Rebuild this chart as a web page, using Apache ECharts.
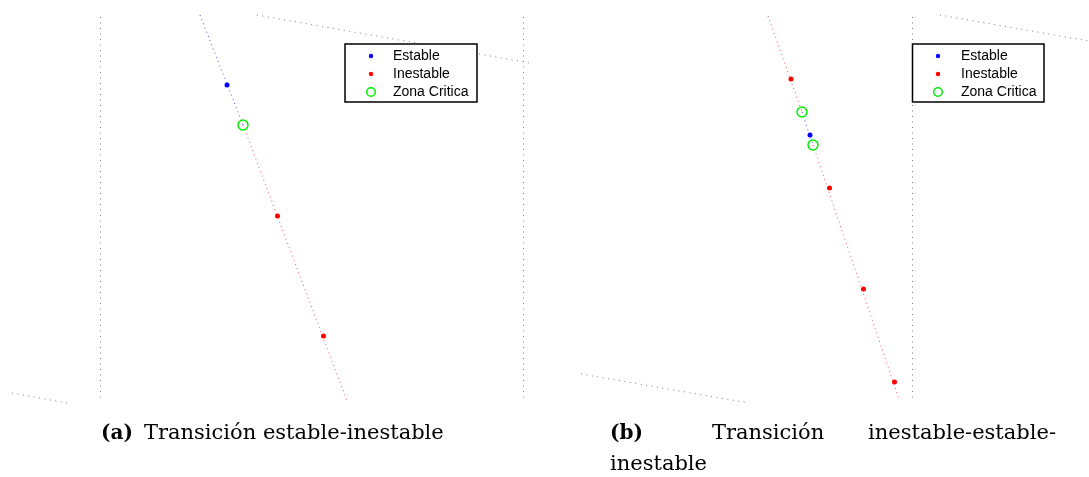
<!DOCTYPE html>
<html>
<head>
<meta charset="utf-8">
<script src="https://cdn.jsdelivr.net/npm/echarts@6/dist/echarts.min.js"></script>
<style>html,body{margin:0;padding:0;background:#fff}#c{width:1089px;height:477px}</style>
</head>
<body>
<div id="c"></div>
<script>
// ---- Panel (a): Transición estable-inestable (projected view coordinates) ----
var gridLinesA = [
  [[100, 17], [100, 399]],
  [[523, 17], [523, 401]],
  [[257, 15], [530, 63]],
  [[12, 393], [67, 403]]
];
var locusStableA = [[200, 15], [243, 125]];
var locusUnstableA = [[243, 125], [347, 401]];
var estableA = [[227, 85]];
var inestableA = [[277.5, 216], [323.5, 336]];
var criticaA = [[243, 125]];

// ---- Panel (b): Transición inestable-estable-inestable ----
var gridLinesB = [
  [[912.5, 17], [912.5, 399]],
  [[940, 15], [1089, 41]],
  [[581, 374], [749, 403]]
];
var locusUnstableB1 = [[768, 16], [802, 112]];
var locusStableB = [[802, 112], [813, 145]];
var locusUnstableB2 = [[813, 145], [899, 399]];
var estableB = [[810, 135]];
var inestableB = [[791, 79], [829.5, 188], [863.5, 289], [894.5, 382]];
var criticaB = [[802, 112], [813, 145]];

var legendNames = ['Estable', 'Inestable', 'Zona Critica'];
var captionA = ['(a)', 'Transición estable-inestable'];
var captionB = ['(b)', 'Transición', 'inestable-estable-', 'inestable'];

var BLUE = '#0000ff', RED = '#ff0000', GREEN = '#00ee00', GRAY = '#707070';

function segs(list) { return list.map(function (c) { return { coords: c }; }); }
function linesSeries(idx, data, color, dash, opacity) {
  return {
    type: 'lines', coordinateSystem: 'cartesian2d', xAxisIndex: idx, yAxisIndex: idx,
    data: data, silent: true, z: 1,
    lineStyle: { color: color, width: 1, type: dash, opacity: opacity }
  };
}
function scatter(idx, name, data, color, hollow) {
  return {
    type: 'scatter', name: name, xAxisIndex: idx, yAxisIndex: idx, data: data, z: 3,
    symbol: 'circle',
    symbolSize: hollow ? 10 : 5,
    itemStyle: hollow ? { color: 'rgba(255,255,255,0)', borderColor: color, borderWidth: 1.5, opacity: 1 }
                      : { color: color, opacity: 1 }
  };
}
function legendGraphic(x, y, w, h, mx, tx) {
  var els = [{
    type: 'rect', shape: { x: x, y: y, width: w, height: h },
    style: { fill: '#fff', stroke: '#000', lineWidth: 1.5 }, z: 10
  }];
  var rows = [y + 12, y + 30, y + 48];
  var cols = [BLUE, RED, GREEN];
  legendNames.forEach(function (n, i) {
    if (i < 2) {
      els.push({ type: 'circle', shape: { cx: mx, cy: rows[i], r: 2.2 }, style: { fill: cols[i] }, z: 11 });
    } else {
      els.push({ type: 'circle', shape: { cx: mx, cy: rows[i], r: 4.3 }, style: { fill: 'none', stroke: cols[i], lineWidth: 1.5 }, z: 11 });
    }
    els.push({ type: 'text', x: tx, y: rows[i], z: 11,
      style: { text: n, fill: '#000', font: '14px "Liberation Sans", Arial, sans-serif', verticalAlign: 'middle', align: 'left' } });
  });
  return els;
}
var serifR = '21px "DejaVu Serif", serif';
var serifB = 'bold 20px "DejaVu Serif", serif';
function cap(x, y, t, f, al) {
  return { type: 'text', x: x, y: y, style: { text: t, font: f, fill: '#000', align: al || 'left', verticalAlign: 'middle' } };
}

var chart = echarts.init(document.getElementById('c'), null, { renderer: 'canvas' });
chart.setOption({
  animation: false,
  backgroundColor: '#fff',
  grid: [
    { left: 0, top: 0, width: 545, height: 477 },
    { left: 545, top: 0, width: 544, height: 477 }
  ],
  xAxis: [
    { gridIndex: 0, type: 'value', min: 0, max: 545, show: false },
    { gridIndex: 1, type: 'value', min: 545, max: 1089, show: false }
  ],
  yAxis: [
    { gridIndex: 0, type: 'value', min: 0, max: 477, inverse: true, show: false },
    { gridIndex: 1, type: 'value', min: 0, max: 477, inverse: true, show: false }
  ],
  series: [
    linesSeries(0, segs(gridLinesA), GRAY, [1, 4.5], 0.9),
    linesSeries(0, segs([locusStableA]), BLUE, [1, 3.5], 0.7),
    linesSeries(0, segs([locusUnstableA]), RED, [1, 3.5], 0.7),
    scatter(0, legendNames[0], estableA, BLUE, false),
    scatter(0, legendNames[1], inestableA, RED, false),
    scatter(0, legendNames[2], criticaA, GREEN, true),
    linesSeries(1, segs(gridLinesB), GRAY, [1, 4.5], 0.9),
    linesSeries(1, segs([locusUnstableB1, locusUnstableB2]), RED, [1, 3.5], 0.7),
    linesSeries(1, segs([locusStableB]), BLUE, [1, 3.5], 0.7),
    scatter(1, legendNames[0], estableB, BLUE, false),
    scatter(1, legendNames[1], inestableB, RED, false),
    scatter(1, legendNames[2], criticaB, GREEN, true)
  ],
  graphic: [].concat(
    legendGraphic(345, 44, 132, 58, 371, 393),
    legendGraphic(912.5, 44, 131.5, 58, 938, 961),
    [
      cap(101, 434, captionA[0], serifB),
      cap(144, 434, captionA[1], serifR),
      cap(610, 434, captionB[0], serifB),
      cap(712, 434, captionB[1], serifR),
      cap(1056, 434, captionB[2], serifR, 'right'),
      cap(610, 465, captionB[3], serifR)
    ]
  )
});
</script>
</body>
</html>
